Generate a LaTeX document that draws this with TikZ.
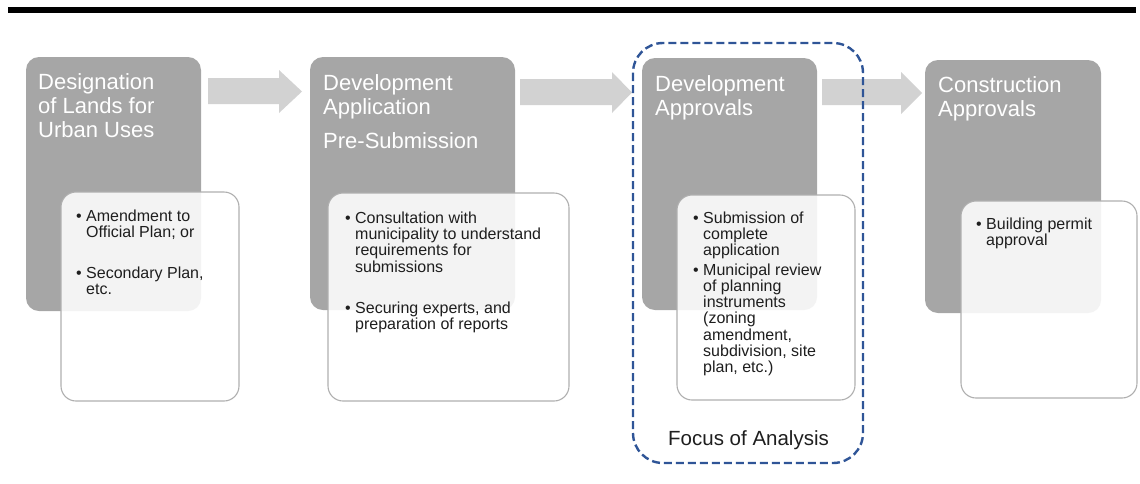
\documentclass[tikz,border=0pt]{standalone}
\usepackage{fontspec}
\setmainfont{Liberation Sans}
\definecolor{stagegray}{HTML}{A6A6A6}
\definecolor{arrowgray}{HTML}{D2D2D2}
\definecolor{bordergray}{HTML}{AFAFAF}
\definecolor{focusblue}{HTML}{2F5597}
\definecolor{darktext}{HTML}{1E1E1E}
\newcommand\tstrut{\vrule height17pt depth0pt width0pt}
\newcommand\bitem[1]{\makebox[10pt][l]{\textbullet}\begin{tabular}[t]{@{}l@{}}#1\end{tabular}}
\begin{document}
\begin{tikzpicture}[x=1pt,y=-1pt,
  stage/.style={fill=stagegray, rounded corners=13pt},
  detail/.style={fill=white, fill opacity=0.87, draw=bordergray, line width=1.1pt, rounded corners=15pt},
  flow/.style={fill=arrowgray},
  focus/.style={draw=focusblue, line width=2.4pt, dash pattern=on 8pt off 4pt, rounded corners=30pt},
  stagetitle/.style={anchor=north west, inner sep=0pt, align=left, text=white, font=\fontsize{22}{24}\selectfont},
  bullets/.style={anchor=base west, inner sep=0pt, text=darktext, font=\fontsize{16}{16.2}\selectfont},
  tight/.style={font=\fontsize{16}{15.7}\selectfont},
]
\useasboundingbox (0,0) rectangle (1140,483);
% top rule
\fill[black] (8,7) rectangle (1136,13);

% stage boxes
\path[stage] (26,57) rectangle (201,311);
\path[stage] (310,57) rectangle (515,310);
\path[stage] (642,58) rectangle (817,310);
\path[stage] (925,60) rectangle (1101,313);

% block arrows
\path[flow] (208,78) -- (279,78) -- (279,70) -- (302,91.5) -- (279,113) -- (279,104) -- (208,104) -- cycle;
\path[flow] (520,79) -- (612,79) -- (612,72) -- (632,92.5) -- (612,113) -- (612,105) -- (520,105) -- cycle;
\path[flow] (822,79) -- (901,79) -- (901,72) -- (922,93) -- (901,114) -- (901,105) -- (822,105) -- cycle;

% detail boxes
\path[detail] (61,192) rectangle (239,401);
\path[detail] (328,193) rectangle (569,401);
\path[detail] (677,195) rectangle (855,400);
\path[detail] (961,201) rectangle (1137,398);

% focus frame
\draw[focus] (633,43) rectangle (863,463);

% titles
\node[stagetitle] (t1) at (38,72) {\tstrut Designation\\of Lands for\\Urban Uses};
\node[stagetitle] (t2) at (323,73) {\tstrut Development\\Application\\[10pt]Pre-Submission};
\node[stagetitle] (t3) at (655,74) {\tstrut Development\\Approvals};
\node[stagetitle] (t4) at (938,75) {\tstrut Construction\\Approvals};

% bullet texts
\node[bullets] (b1a) at (76,221) {\bitem{Amendment to\\Official Plan; or}};
\node[bullets] (b1b) at (76,278) {\bitem{Secondary Plan,\\etc.}};
\node[bullets] (b2a) at (345,223) {\bitem{Consultation with\\municipality to understand\\requirements for\\submissions}};
\node[bullets] (b2b) at (345,313) {\bitem{Securing experts, and\\preparation of reports}};
\node[bullets, tight] (b3a) at (693,223) {\bitem{Submission of\\complete\\application}};
\node[bullets, tight] (b3b) at (693,275) {\bitem{Municipal review\\of planning\\instruments\\(zoning\\amendment,\\subdivision, site\\plan, etc.)}};
\node[bullets] (b4a) at (976,229) {\bitem{Building permit\\approval}};

% focus label
\node[anchor=base west, inner sep=0pt, text=darktext, font=\fontsize{20.5}{22}\selectfont] (fl) at (668,445) {Focus of Analysis};
\end{tikzpicture}
\end{document}
